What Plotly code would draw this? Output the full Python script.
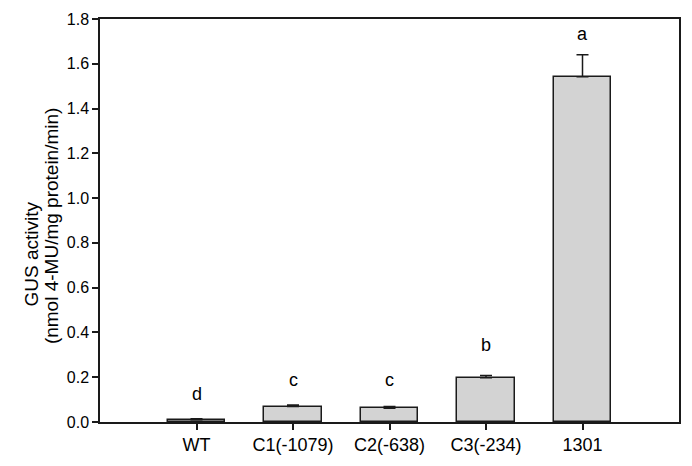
import plotly.graph_objects as go

categories = ["WT", "C1(-1079)", "C2(-638)", "C3(-234)", "1301"]
gus_activity = [0.010, 0.069, 0.061, 0.198, 1.542]
error_upper = [0.005, 0.007, 0.008, 0.010, 0.098]
sig_letters = ["d", "c", "c", "b", "a"]
letter_y = [0.125, 0.188, 0.188, 0.345, 1.735]
y_ticks = [0.0, 0.2, 0.4, 0.6, 0.8, 1.0, 1.2, 1.4, 1.6, 1.8]

xpos = list(range(len(categories)))
FONT = "Liberation Sans, Arial, sans-serif"
W, H = 692, 466
ML, MR, MT, MB = 100, 11, 12, 42

fig = go.Figure()
fig.add_trace(go.Bar(
    x=xpos, y=gus_activity, width=0.6,
    marker=dict(color="#d3d3d3", line=dict(color="#1a1a1a", width=1.5)),
    error_y=dict(type="data", array=error_upper, arrayminus=[0] * len(error_upper),
                 symmetric=False, color="#1a1a1a", thickness=1.5, width=6),
    showlegend=False,
))

for xi, lt, ly in zip(xpos, sig_letters, letter_y):
    fig.add_annotation(x=xi, y=ly, text=lt, showarrow=False,
                       font=dict(family=FONT, size=18, color="black"),
                       xref="x", yref="y")

plot_w = W - ML - MR
plot_h = H - MT - MB
def px_to_paper(px, py):
    return (px - ML) / plot_w, (H - MB - py) / plot_h

gx, gy = px_to_paper(19, 252)
fig.add_annotation(text="GUS activity", x=gx, y=gy, xref="paper", yref="paper",
                   showarrow=False, textangle=-90,
                   font=dict(family=FONT, size=19, color="black"))
nx, ny = px_to_paper(39, 223)
fig.add_annotation(text="(nmol 4-MU/mg protein/min)", x=nx, y=ny, xref="paper", yref="paper",
                   showarrow=False, textangle=-90,
                   font=dict(family=FONT, size=19, color="black"))

fig.update_layout(
    width=W, height=H,
    margin=dict(l=ML, r=MR, t=MT, b=MB),
    plot_bgcolor="white", paper_bgcolor="white",
    font=dict(family=FONT, size=16, color="black"),
    bargap=0,
)

fig.update_xaxes(range=[-1, 5], tickmode="array", tickvals=xpos, ticktext=categories,
                 ticks="outside", ticklen=6, tickwidth=1.5, tickcolor="#1a1a1a",
                 showline=True, linecolor="#1a1a1a", linewidth=1.5, mirror=True,
                 showgrid=False, zeroline=False, tickfont=dict(size=18))
fig.update_yaxes(range=[0, 1.8], tickmode="array", tickvals=y_ticks,
                 ticktext=[f"{v:.1f}" for v in y_ticks],
                 ticks="outside", ticklen=6, tickwidth=1.5, tickcolor="#1a1a1a",
                 showline=True, linecolor="#1a1a1a", linewidth=1.5, mirror=True,
                 showgrid=False, zeroline=False, tickfont=dict(size=16))

fig.write_html("out.html", config={"displayModeBar": False},
               post_script="document.body.style.margin='0';document.body.style.overflow='hidden';")
